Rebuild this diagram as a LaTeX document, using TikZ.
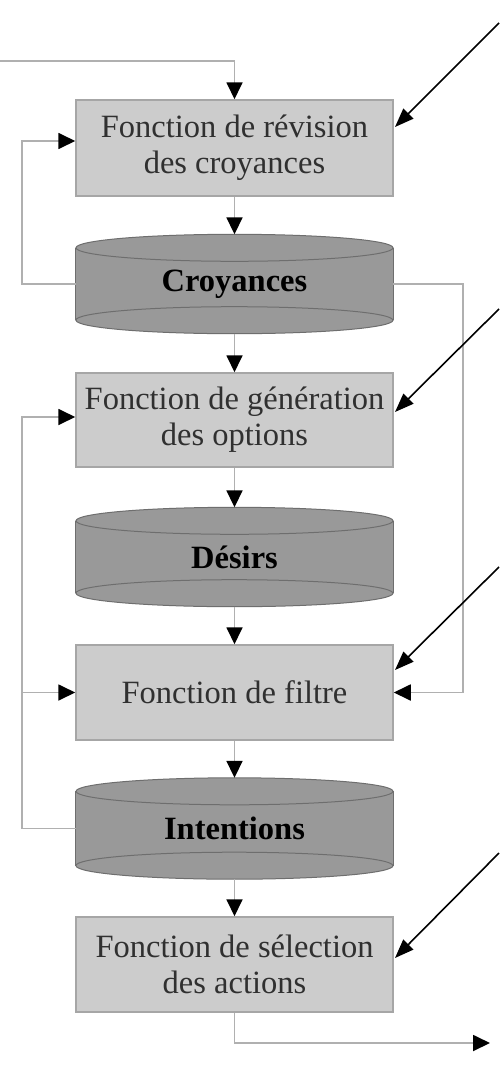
\documentclass[tikz,border=0pt]{standalone}
\usepackage{fontspec}
\setmainfont{Liberation Serif}
\usetikzlibrary{arrows.meta,calc}
\definecolor{boxfill}{HTML}{CCCCCC}
\definecolor{boxline}{HTML}{A6A6A6}
\definecolor{cylfill}{HTML}{999999}
\definecolor{cylline}{HTML}{6E6E6E}
\definecolor{connline}{HTML}{B0B0B0}
\definecolor{boxtext}{HTML}{303030}
\tikzset{
  fbox/.style={rectangle, fill=boxfill, draw=boxline, line width=1.5pt,
    minimum width=317pt, minimum height=95pt, inner sep=0pt, align=center,
    text=boxtext, font=\fontsize{32.5}{36}\selectfont},
  cylnode/.style={rectangle, minimum width=317pt, minimum height=99pt, inner sep=0pt,
    font=\bfseries\fontsize{32.5}{36}\selectfont, text=black},
  conn/.style={draw=connline, line width=1.8pt, -{Triangle[length=17pt,width=16pt,color=black]}},
  diag/.style={draw=black, line width=1.6pt, -{Triangle[length=19pt,width=14pt,color=black]}},
}
\newcommand{\drawcylinder}[1]{%
  \fill[cylfill, draw=cylline, line width=1pt]
    ($(#1.south)+(0,-13.5)$) ellipse[x radius=158.5pt, y radius=13.5pt];
  \fill[cylfill] ($(#1.south west)+(0,-13.5)$) rectangle ($(#1.north east)+(0,13.5)$);
  \draw[cylline, line width=1pt] ($(#1.south west)+(0,-13.5)$) -- ($(#1.north west)+(0,13.5)$);
  \draw[cylline, line width=1pt] ($(#1.south east)+(0,-13.5)$) -- ($(#1.north east)+(0,13.5)$);
  \draw[cylline, line width=1pt] ($(#1.south west)+(0,-13.5)$) arc[start angle=180, end angle=0, x radius=158.5pt, y radius=13.5pt];
  \fill[cylfill, draw=cylline, line width=1pt]
    ($(#1.north)+(0,13.5)$) ellipse[x radius=158.5pt, y radius=13.5pt];
}
\begin{document}
\begin{tikzpicture}[x=1pt, y=-1pt]
\useasboundingbox[fill=white] (0,0) rectangle (499,1073);

% function boxes
\node[fbox, minimum height=96pt] (b1) at (234.5,148) {Fonction de révision\\des croyances};
\node[fbox, minimum height=94pt] (b2) at (234.5,420) {Fonction de génération\\des options};
\node[fbox] (b3) at (234.5,692.5) {Fonction de filtre};
\node[fbox] (b4) at (234.5,964.5) {Fonction de sélection\\des actions};

% cylinders (data stores)
\node[cylnode] (croy) at (234.5,284) {};
\drawcylinder{croy}
\node[cylnode] at (croy) {Croyances};
\node[cylnode] (des) at (234.5,557) {};
\drawcylinder{des}
\node[cylnode] at (des) {Désirs};
\node[cylnode, minimum height=101pt] (int) at (234.5,828.5) {};
\drawcylinder{int}
\node[cylnode] at (int) {Intentions};

% helper coordinates
\coordinate (in) at (0,61);
\coordinate (L) at (22,0);
\coordinate (R) at (463,0);
\coordinate (out) at (490,1043);

% vertical flow
\draw[conn] (in) -| (b1.north);
\draw[conn] (b1.south) -- (croy.north);
\draw[conn] (croy.south) -- (b2.north);
\draw[conn] (b2.south) -- (des.north);
\draw[conn] (des.south) -- (b3.north);
\draw[conn] (b3.south) -- (int.north);
\draw[conn] (int.south) -- (b4.north);
\draw[conn] (b4.south) |- (out);

% feedback loops
\draw[conn] (croy.west) -- (croy.west -| L) |- ([yshift=7pt]b1.west);
\draw[conn] (croy.east) -- (croy.east -| R) |- (b3.east);
\draw[conn] (int.west) -- (int.west -| L) |- ([yshift=3pt]b2.west);
\draw[conn] (L |- b3.west) -- (b3.west);

% external black arrows
\coordinate (d1s) at (499,23);   \coordinate (d1e) at (395,127);
\coordinate (d2s) at (499,309);  \coordinate (d2e) at (395,412);
\coordinate (d3s) at (499,567);  \coordinate (d3e) at (395,670);
\coordinate (d4s) at (499,853);  \coordinate (d4e) at (395,958);
\draw[diag] (d1s) -- (d1e);
\draw[diag] (d2s) -- (d2e);
\draw[diag] (d3s) -- (d3e);
\draw[diag] (d4s) -- (d4e);
\end{tikzpicture}
\end{document}
